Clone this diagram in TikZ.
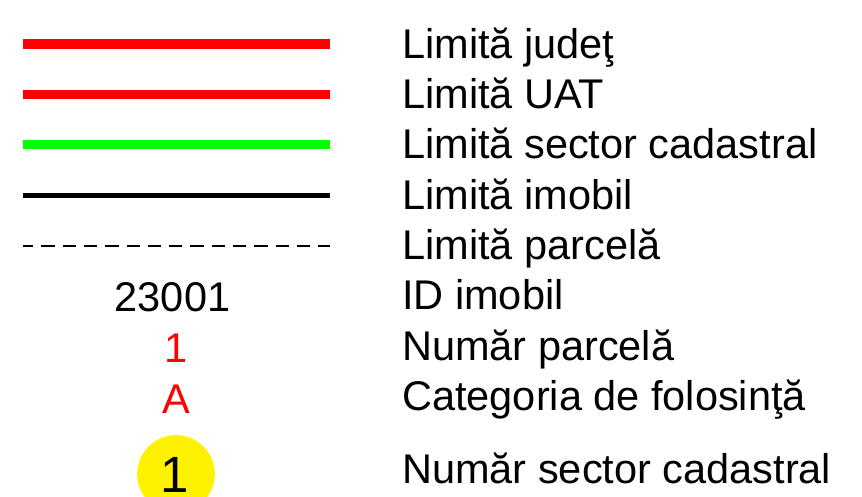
\documentclass[tikz,border=0pt]{standalone}
\usepackage{fontspec}
\setmainfont{Liberation Sans}
\usetikzlibrary{positioning}

\begin{document}
\begin{tikzpicture}
	[%
	x=1pt, y=-1pt,%
	legtext/.style={anchor=base west,	inner sep=0pt,	font=\fontsize{41.5}{50}\selectfont},%
	legsym/.style ={anchor=base,			inner sep=0pt,	font=\fontsize{41.5}{50}\selectfont},%
	sample/.style ={line cap=butt},%
	]

	\newcommand\xtext{402}
	\newcommand\xa{23}
	\newcommand\xb{330}

	% frame
	\useasboundingbox (0,0) rectangle (862,496);
	\clip (0,0) rectangle (862,496);

	% line samples
	\foreach \i/\y in {0/43.8,1/94.1,2/144.9,3/195.2,4/245.8} {
		\coordinate (ls\i) at (\xa,\y);
		\coordinate (le\i) at (\xb,\y);
	}
	\draw [sample, red, line width=9.5pt] (ls0) -- (le0);
	\draw [sample, red, line width=9pt] (ls1) -- (le1);
	\draw [sample, green, line width=9pt] (ls2) -- (le2);
	\draw [sample, black, line width=5pt] (ls3) -- (le3);
	\draw [sample, black, line width=1.5pt, dash pattern=on 13.3pt off 8pt, dash phase=3pt] (ls4) -- (le4);

	% labels
	\foreach \txt [count=\i from 0] in {Limită judeţ, Limită UAT, Limită sector cadastral, Limită imobil, Limită parcelă, ID imobil, Număr parcelă, Categoria de folosinţă}
		\node (lbl\i) at (\xtext,58.3+50.3*\i) [legtext] {\txt};
	\node (lbl8) at (\xtext,483) [legtext] {Număr sector cadastral};

	% symbols
	\node (idnr)  at (172.5,311) [legsym] {23001};
	\node (parc)  at (176.5,362) [legsym, text=red] {1};
	\node (categ) at (176,413) [legsym, text=red] {A};

	\node (sect) at (176,474) [circle, fill=yellow, inner sep=0pt, minimum size=77.7pt] {};
	\node (sectnr) at (175,492.5) [legsym, text depth=0pt, font=\fontsize{51}{60}\selectfont] {1};

\end{tikzpicture}
\end{document}
